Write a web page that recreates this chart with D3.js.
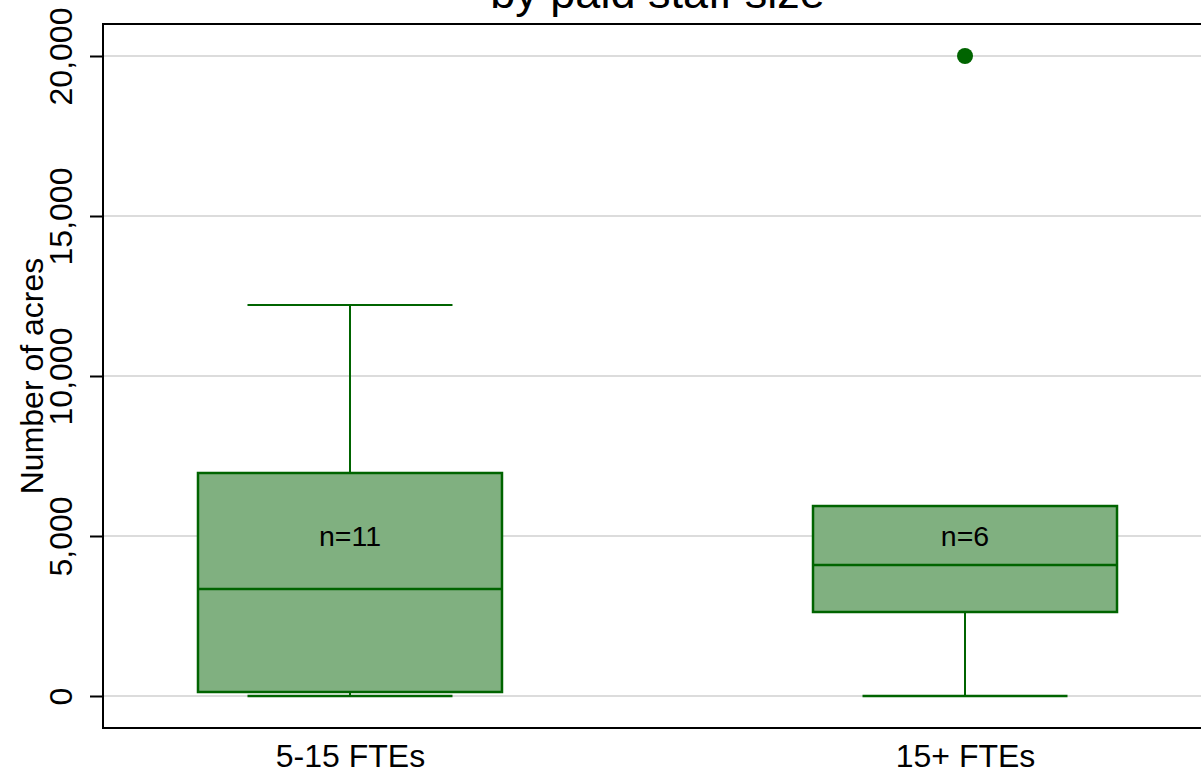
<!DOCTYPE html>
<html><head><meta charset="utf-8">
<script src="https://cdn.jsdelivr.net/npm/d3@7"></script>
<style>body{margin:0;background:#fff;} svg{display:block;font-family:"Liberation Sans",Arial,Helvetica,sans-serif;}</style>
</head><body><svg id="c" width="1201" height="774"></svg>
<script>
const categories = ["5-15 FTEs", "15+ FTEs"];
const q1 = [125, 2625];
const median = [3344, 4094];
const q3 = [6969, 5937];
const whiskerLow = [0, 0];
const whiskerHigh = [12219, 5937];
const counts = [11, 6];
const outliers = [[], [20000]];
const yTicks = [0, 5000, 10000, 15000, 20000];
const labelValue = 5000;

const svg = d3.select("#c");
const L = 103, R = 1212, T = 24, B = 728;
const green = "#006400", fill = "#80b080";
const x = d3.scalePoint().domain(categories).range([L, R]).padding(0.4016);
const y = d3.scaleLinear().domain([-1000, 21000]).range([B, T]);
const boxW = 304, capW = 205;

// gridlines
svg.append("g").selectAll("line").data(yTicks).join("line")
  .attr("x1", L).attr("x2", R).attr("y1", d => y(d)).attr("y2", d => y(d))
  .attr("stroke", "#dcdcdc").attr("stroke-width", 2);

const data = categories.map((c, i) => ({c, i}));
const g = svg.append("g");
data.forEach(({c, i}) => {
  const cx = x(c);
  if (whiskerHigh[i] > q3[i]) {
    g.append("line").attr("x1", cx).attr("x2", cx).attr("y1", y(q3[i])).attr("y2", y(whiskerHigh[i])).attr("stroke", green).attr("stroke-width", 2);
    g.append("line").attr("x1", cx - capW/2).attr("x2", cx + capW/2).attr("y1", y(whiskerHigh[i])).attr("y2", y(whiskerHigh[i])).attr("stroke", green).attr("stroke-width", 2);
  }
  if (whiskerLow[i] < q1[i]) {
    g.append("line").attr("x1", cx).attr("x2", cx).attr("y1", y(q1[i])).attr("y2", y(whiskerLow[i])).attr("stroke", green).attr("stroke-width", 2);
    g.append("line").attr("x1", cx - capW/2).attr("x2", cx + capW/2).attr("y1", y(whiskerLow[i])).attr("y2", y(whiskerLow[i])).attr("stroke", green).attr("stroke-width", 2.5);
  }
  g.append("rect").attr("x", cx - boxW/2).attr("width", boxW)
    .attr("y", y(q3[i])).attr("height", y(q1[i]) - y(q3[i]))
    .attr("fill", fill).attr("stroke", green).attr("stroke-width", 2.5);
  g.append("line").attr("x1", cx - boxW/2).attr("x2", cx + boxW/2).attr("y1", y(median[i])).attr("y2", y(median[i])).attr("stroke", green).attr("stroke-width", 2.5);
  g.append("text").attr("x", cx).attr("y", y(labelValue)).attr("dy", "0.36em")
    .attr("text-anchor", "middle").attr("font-size", 28.5).attr("fill", "#000").text("n=" + counts[i]);
  outliers[i].forEach(v => {
    g.append("circle").attr("cx", cx).attr("cy", y(v)).attr("r", 8).attr("fill", green);
  });
});

// frame
svg.append("rect").attr("x", L).attr("y", T).attr("width", R - L).attr("height", B - T)
  .attr("fill", "none").attr("stroke", "#000").attr("stroke-width", 2);

// y axis
const ya = svg.append("g").attr("transform", `translate(${L},0)`)
  .call(d3.axisLeft(y).tickValues(yTicks).tickSize(13).tickFormat(d3.format(",")));
ya.select(".domain").remove();
ya.selectAll("line").attr("stroke", "#000").attr("stroke-width", 2);
ya.selectAll("text").attr("transform", "rotate(-90)")
  .attr("x", 0).attr("y", -31).attr("dy", 0).attr("text-anchor", "middle")
  .attr("font-size", 32).attr("fill", "#000").style("font-family", "'Liberation Sans',Arial,sans-serif");

// x axis labels
const xa = svg.append("g").attr("transform", `translate(0,${B})`)
  .call(d3.axisBottom(x).tickSize(0).tickPadding(0));
xa.select(".domain").remove();
xa.selectAll("text").attr("font-size", 32).attr("fill", "#000").attr("y", 39).attr("dy", 0).style("font-family", "'Liberation Sans',Arial,sans-serif");

// axis title
svg.append("text").attr("transform", `translate(43,${y(10000)}) rotate(-90)`)
  .attr("text-anchor", "middle").attr("font-size", 32).text("Number of acres");
// title (cut off)
svg.append("text").attr("x", (L + R) / 2).attr("y", 8).attr("text-anchor", "middle")
  .attr("font-size", 45).text("by paid staff size");
</script></body></html>
